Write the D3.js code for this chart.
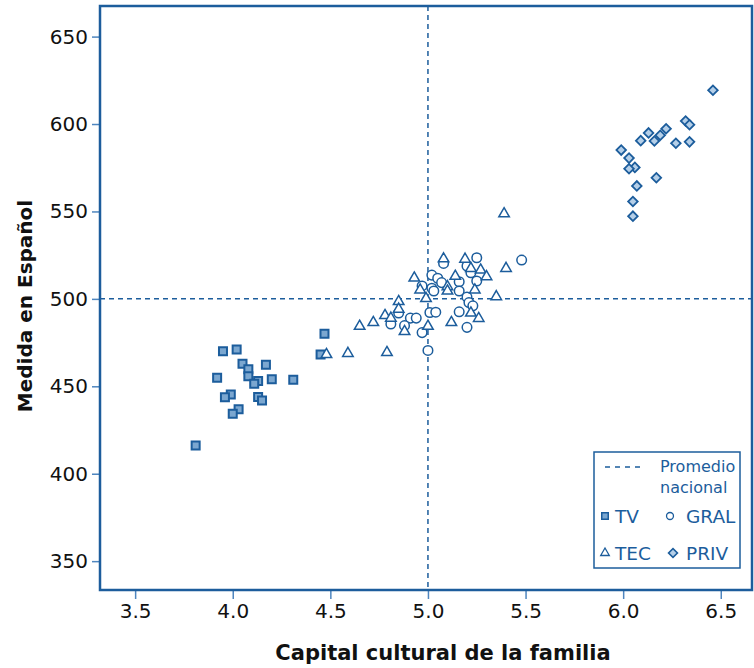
<!DOCTYPE html>
<html>
<head>
<meta charset="utf-8">
<script src="https://cdn.jsdelivr.net/npm/d3@7"></script>
<style>
  body { margin: 0; background: #fff; }
  svg { display: block; font-family: "DejaVu Sans", Verdana, sans-serif; }
</style>
</head>
<body>
<div id="chart"></div>
<script>
// TV schools: [capital cultural, medida]
const tvData = [
    [4.47, 480.1], [4.45, 468.2], [3.95, 470.1], [4.02, 471.0], [4.05, 462.9],
    [4.08, 459.8], [4.17, 462.3], [3.92, 454.9], [4.08, 455.7], [4.13, 453.0],
    [4.11, 451.5], [4.20, 454.0], [4.31, 453.8], [3.99, 445.3], [3.96, 443.8],
    [4.13, 443.9], [4.15, 441.9], [4.03, 436.9], [4.00, 434.3], [3.81, 416.1]
];
const gralData = [
    [5.08, 520.3], [5.25, 523.5], [5.48, 522.2], [5.20, 518.8], [5.22, 514.9],
    [5.02, 513.6], [5.05, 511.8], [5.16, 509.8], [5.25, 510.2], [5.07, 509.3],
    [4.97, 507.4], [5.02, 506.1], [5.03, 504.5], [5.16, 504.5], [5.20, 501.0],
    [5.21, 497.9], [5.23, 496.0], [4.85, 491.9], [5.16, 492.6], [5.01, 492.2],
    [5.04, 492.4], [4.91, 489.0], [4.94, 489.0], [4.81, 485.6], [4.88, 484.7],
    [4.97, 480.7], [5.20, 483.7], [5.00, 470.5]
];
const tecData = [
    [5.39, 548.7], [5.08, 522.9], [5.19, 522.7], [5.22, 517.4], [5.27, 516.5],
    [5.30, 512.7], [5.40, 517.4], [4.93, 511.9], [5.14, 512.9], [4.96, 505.1],
    [5.10, 507.0], [5.10, 504.5], [5.24, 505.1], [5.35, 501.3], [4.99, 500.2],
    [4.85, 498.5], [4.85, 494.1], [5.22, 491.9], [4.78, 490.5], [4.81, 489.0],
    [5.26, 488.8], [4.72, 486.5], [4.65, 484.3], [4.88, 481.3], [5.00, 484.3],
    [5.12, 486.5], [4.59, 468.8], [4.79, 469.3], [4.48, 468.2]
];
const privData = [
    [6.46, 619.3], [6.32, 601.7], [6.34, 599.6], [6.22, 597.3], [6.13, 594.9],
    [6.19, 593.6], [6.16, 590.3], [6.09, 590.5], [6.27, 589.0], [6.34, 589.8],
    [5.99, 585.1], [6.03, 580.5], [6.06, 575.2], [6.03, 574.4], [6.17, 569.3],
    [6.07, 564.6], [6.05, 555.7], [6.05, 547.3]
];
const xTicks = [3.5, 4.0, 4.5, 5.0, 5.5, 6.0, 6.5];
const yTicks = [350, 400, 450, 500, 550, 600, 650];
const promedioX = 5.0;
const promedioY = 500;

const blue = '#1c5d9c';
const width = 754, height = 668;
const margin = {top: 6, right: 2, bottom: 78, left: 100};

const svg = d3.select('#chart').append('svg')
    .attr('width', width)
    .attr('height', height);

const x = d3.scaleLinear()
    .domain([3.32, 6.66])
    .range([margin.left, width - margin.right]);

const y = d3.scaleLinear()
    .domain([333.5, 667.5])
    .range([height - margin.bottom, margin.top]);

// Axes
const xAxis = svg.append('g')
    .attr('transform', `translate(0,${height - margin.bottom})`)
    .call(d3.axisBottom(x).tickValues(xTicks).tickFormat(d3.format('.1f')).tickSize(9).tickPadding(5));
const yAxis = svg.append('g')
    .attr('transform', `translate(${margin.left},0)`)
    .call(d3.axisLeft(y).tickValues(yTicks).tickSize(8).tickPadding(4));

[xAxis, yAxis].forEach(g => {
    g.select('.domain').remove();
    g.selectAll('.tick line').attr('stroke', '#4f86bf').attr('stroke-width', 1.5);
    g.selectAll('.tick text')
        .attr('fill', '#111')
        .style('font-size', '20px')
        .style('font-family', '"DejaVu Sans", Verdana, sans-serif');
});

// Reference lines
svg.append('line')
    .attr('x1', x(promedioX)).attr('x2', x(promedioX))
    .attr('y1', y.range()[1]).attr('y2', y.range()[0])
    .attr('stroke', blue).attr('stroke-width', 1.5).attr('stroke-dasharray', '5,4');
svg.append('line')
    .attr('x1', x.range()[0]).attr('x2', x.range()[1])
    .attr('y1', y(promedioY)).attr('y2', y(promedioY))
    .attr('stroke', blue).attr('stroke-width', 1.5).attr('stroke-dasharray', '5,4');

// Markers
const sym = (type, size) => d3.symbol().type(type).size(size)();

function drawSeries(data, path, fill, sw, rotate) {
    svg.append('g').selectAll('path')
        .data(data)
        .enter()
        .append('path')
        .attr('d', path)
        .attr('transform', d => `translate(${x(d[0])},${y(d[1])})` + (rotate ? ' rotate(45)' : ''))
        .attr('fill', fill)
        .attr('stroke', blue)
        .attr('stroke-width', sw);
}

drawSeries(tvData, sym(d3.symbolSquare, 64), '#7ba7d0', 2);
drawSeries(gralData, sym(d3.symbolCircle, 72), '#fff', 1.5);
drawSeries(tecData, sym(d3.symbolTriangle, 48), '#fff', 1.5);
drawSeries(privData, sym(d3.symbolSquare, 46), '#b5cfe8', 1.8, true);

// Frame
svg.append('rect')
    .attr('x', x.range()[0]).attr('y', y.range()[1])
    .attr('width', x.range()[1] - x.range()[0])
    .attr('height', y.range()[0] - y.range()[1])
    .attr('fill', 'none')
    .attr('stroke', blue)
    .attr('stroke-width', 2.5);

// Axis titles
svg.append('text')
    .attr('x', (x.range()[0] + x.range()[1]) / 2 + 17)
    .attr('y', 660)
    .attr('text-anchor', 'middle')
    .style('font-size', '21px')
    .style('font-weight', 'bold')
    .attr('fill', '#111')
    .text('Capital cultural de la familia');

svg.append('text')
    .attr('transform', 'translate(32,306) rotate(-90)')
    .attr('text-anchor', 'middle')
    .style('font-size', '20px')
    .style('font-weight', 'bold')
    .attr('fill', '#111')
    .text('Medida en Español');

// Legend
const legend = svg.append('g').attr('transform', 'translate(594,452)');
legend.append('rect')
    .attr('width', 146).attr('height', 116)
    .attr('fill', '#fff')
    .attr('stroke', blue)
    .attr('stroke-width', 1.5);

legend.append('line')
    .attr('x1', 11).attr('x2', 50).attr('y1', 15).attr('y2', 15)
    .attr('stroke', blue).attr('stroke-width', 1.5).attr('stroke-dasharray', '5,5');
legend.append('text').attr('x', 66).attr('y', 20).text('Promedio')
    .style('font-size', '16px').attr('fill', blue);
legend.append('text').attr('x', 66).attr('y', 41).text('nacional')
    .style('font-size', '16px').attr('fill', blue);

const items = [
    {label: 'TV', path: sym(d3.symbolSquare, 42), fill: '#7ba7d0', sw: 1.5, cx: 11, cy: 64},
    {label: 'GRAL', path: sym(d3.symbolCircle, 38), fill: '#fff', sw: 1.3, cx: 76, cy: 64},
    {label: 'TEC', path: sym(d3.symbolTriangle, 32), fill: '#fff', sw: 1.3, cx: 11, cy: 101},
    {label: 'PRIV', path: sym(d3.symbolSquare, 40), fill: '#b5cfe8', sw: 1.6, cx: 79, cy: 101, rot: true}
];
items.forEach(it => {
    legend.append('path')
        .attr('d', it.path)
        .attr('transform', `translate(${it.cx},${it.cy})` + (it.rot ? ' rotate(45)' : ''))
        .attr('fill', it.fill)
        .attr('stroke', blue)
        .attr('stroke-width', it.sw);
    legend.append('text')
        .attr('x', it.cx + (it.label === 'GRAL' || it.label === 'PRIV' ? 92 - it.cx : 10))
        .attr('y', it.cy + 7)
        .text(it.label)
        .style('font-size', '18.5px')
        .attr('fill', blue);
});
</script>
</body>
</html>
